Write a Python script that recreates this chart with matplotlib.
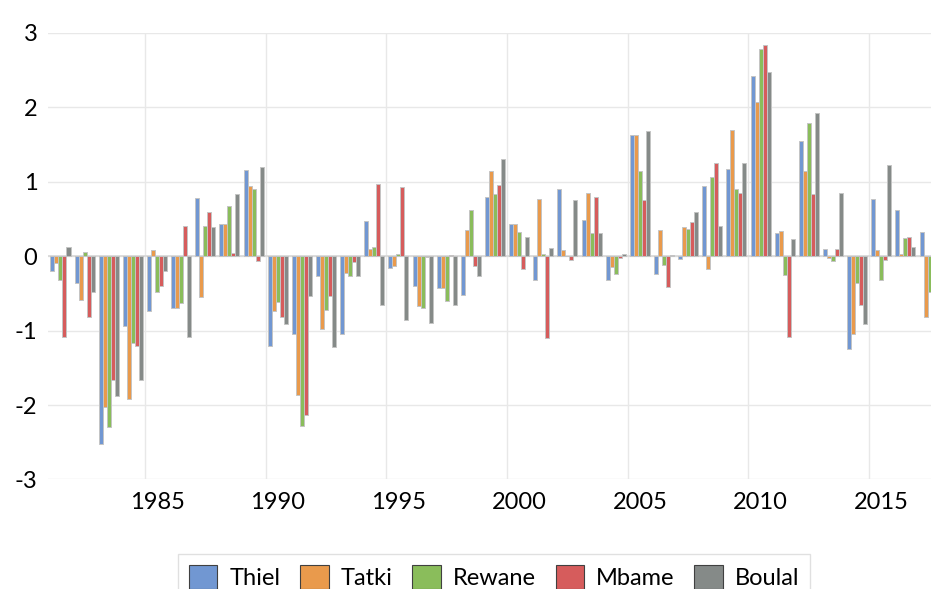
import numpy as np
import matplotlib
matplotlib.use("Agg")
import matplotlib.pyplot as plt

# ------------------------------------------------------ #
#                      Input Data                        #
# ------------------------------------------------------ #

years = list(range(1981, 2018))
tick_years = [1985, 1990, 1995, 2000, 2005, 2010, 2015]
stations = ["Thiel", "Tatki", "Rewane", "Mbame", "Boulal"]

thiel = [-0.20, -0.36, -2.53, -0.94, -0.73, -0.70, 0.78, 0.43, 1.16, -1.21,
         -1.04, -0.26, -1.05, 0.47, -0.16, -0.40, -0.43, -0.52, 0.80, 0.43,
         -0.32, 0.91, 0.48, -0.32, 1.63, -0.24, -0.04, 0.95, 1.17, 2.42,
         0.31, 1.55, 0.10, -1.25, 0.77, 0.62, 0.32]
tatki = [-0.09, -0.59, -2.02, -1.92, 0.08, -0.70, -0.55, 0.43, 0.95, -0.73,
         -1.87, -0.98, -0.22, 0.10, -0.13, -0.67, -0.43, 0.35, 1.14, 0.43,
         0.77, 0.09, 0.85, -0.14, 1.63, 0.35, 0.39, -0.17, 1.70, 2.07,
         0.34, 1.14, -0.03, -1.04, 0.09, 0.03, -0.82]
rewane = [-0.32, 0.05, -2.30, -1.17, -0.48, -0.63, 0.41, 0.67, 0.91, -0.62,
          -2.28, -0.72, -0.26, 0.12, 0.03, -0.70, -0.60, 0.62, 0.83, 0.32,
          0.03, 0.00, 0.31, -0.24, 1.14, -0.12, 0.36, 1.06, 0.91, 2.78,
          -0.25, 1.79, -0.07, -0.36, -0.32, 0.24, -0.48]
mbame = [-1.09, -0.82, -1.66, -1.21, -0.40, 0.40, 0.60, 0.04, -0.06, -0.82,
         -2.14, -0.53, -0.08, 0.97, 0.93, -0.01, 0.01, -0.13, 0.96, -0.17,
         -1.10, -0.05, 0.80, -0.03, 0.75, -0.41, 0.46, 1.25, 0.85, 2.84,
         -1.09, 0.83, 0.10, -0.65, -0.05, 0.26, 0.00]
boulal = [0.12, -0.48, -1.88, -1.67, -0.20, -1.08, 0.39, 0.83, 1.20, -0.91,
          -0.54, -1.22, -0.26, -0.66, -0.86, -0.90, -0.66, -0.26, 1.31, 0.26,
          0.11, 0.76, 0.31, 0.03, 1.68, 0.01, 0.59, 0.41, 1.25, 2.48,
          0.23, 1.93, 0.85, -0.91, 1.22, 0.12, 0.00]

series = [thiel, tatki, rewane, mbame, boulal]
colors = ["#7197D2", "#E99A4C", "#8ABD5B", "#D65C5C", "#858A88"]

# ------------------------------------------------------ #
#                         Plot                           #
# ------------------------------------------------------ #

plt.rcParams["font.family"] = ["Lato", "DejaVu Sans"]
plt.rcParams["axes.unicode_minus"] = False

fig = plt.figure(figsize=(9.31, 5.89), dpi=100)
# plot area runs a little past the right edge, like the cropped original
ax = fig.add_axes([0.052, 0.186, 0.9594, 0.758])

x = np.arange(len(years))
width = 0.166
for i, (vals, name, col) in enumerate(zip(series, stations, colors)):
    ax.bar(x + (i - 2) * width, vals, width, color=col, edgecolor="#C4C4C4",
           linewidth=0.7, label=name, zorder=3)

ax.axhline(0, color="#D9D9D9", lw=1.3, zorder=2)

ax.set_xlim(-0.5, len(years) - 0.5)
ax.set_ylim(-3, 3)
ax.set_yticks(range(-3, 4))
ax.set_xticks([years.index(y) for y in tick_years])
ax.set_xticklabels([str(y) for y in tick_years])
ax.set_xticks([years.index(y) - 0.5 for y in tick_years], minor=True)

ax.grid(axis="y", which="major", color="#E8E8E8", lw=1, zorder=0)
ax.grid(axis="x", which="minor", color="#E8E8E8", lw=1, zorder=0)
ax.tick_params(axis="both", which="both", length=0, labelsize=17, colors="#000000")
ax.tick_params(axis="y", pad=8)
ax.tick_params(axis="x", pad=9)
for s in ax.spines.values():
    s.set_visible(False)

leg = fig.legend(loc="upper center", bbox_to_anchor=(0.5306, 0.0595), ncol=5,
                 fontsize=17, frameon=True, fancybox=False, edgecolor="#D9D9D9",
                 handlelength=1.2, handleheight=1.2, handletextpad=0.5,
                 columnspacing=0.85, borderpad=0.45, borderaxespad=0)
leg.get_frame().set_linewidth(1)
for h in leg.legend_handles:
    h.set_edgecolor("#404040")
    h.set_linewidth(0.8)

plt.savefig("out.png", dpi=100)
